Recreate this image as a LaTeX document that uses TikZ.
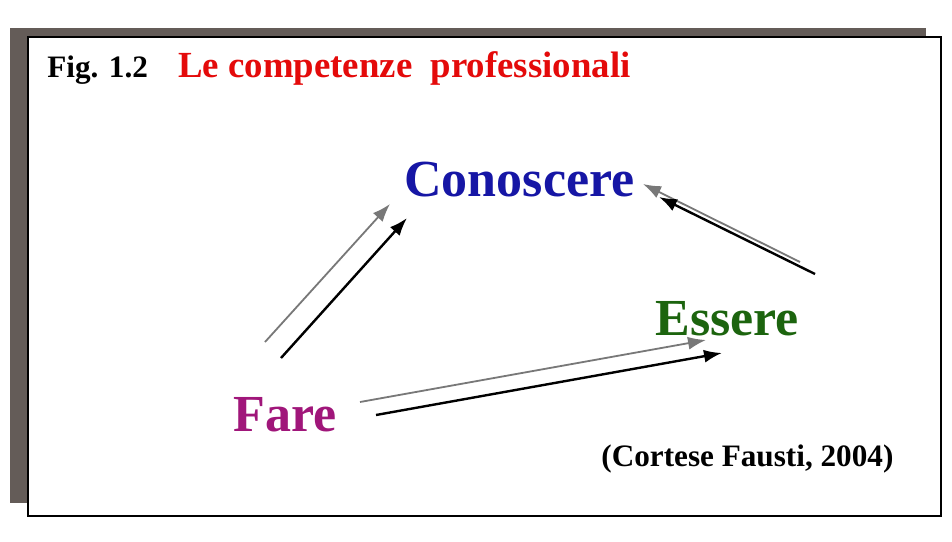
\documentclass[tikz,border=0pt]{standalone}
\usepackage{fontspec}
\setmainfont{Liberation Serif}
\usepackage{xcolor}
\usetikzlibrary{arrows.meta,positioning,calc}

\definecolor{shadowgray}{RGB}{100,92,88}
\definecolor{titlered}{RGB}{228,10,10}
\definecolor{conblue}{RGB}{22,22,165}
\definecolor{essgreen}{RGB}{28,100,14}
\definecolor{faremag}{RGB}{160,22,122}
\definecolor{arrgray}{RGB}{120,120,120}

\begin{document}
\begin{tikzpicture}[x=0.5pt,y=-0.5pt,
		word/.style={font=\bfseries\fontsize{26}{30}\selectfont, inner sep=0pt, anchor=base west},
		small/.style={font=\bfseries\fontsize{15.6}{18}\selectfont, inner sep=0pt, anchor=base west},
		tip/.style={-{Latex[length=9pt,width=6.5pt]}}]
		\useasboundingbox (0,0) rectangle (952,541);

		% frame with shadow
		\fill[shadowgray] (10,28) rectangle (926,503);
		\draw[line width=0.8pt, fill=white] (28,37) rectangle (941,516);

		% title
		\node[small] (fig) at (47,77) {Fig. 1.2};
		\node[small, font=\bfseries\fontsize{18.4}{22}\selectfont, text=titlered] (title) at (178,77) {Le competenze\ \ professionali};

		% the three words
		\node[word, text=conblue] (con) at (404,196) {Conoscere};
		\node[word, text=essgreen] (ess) at (655,335) {Essere};
		\node[word, text=faremag] (fare) at (233,431) {Fare};

		\node[small] (cite) at (601,466) {(Cortese Fausti, 2004)};

		% arrow ends
		\coordinate (fareC1) at (265,342);
		\coordinate (conF1) at (390,204);
		\coordinate (fareC2) at (281,358);
		\coordinate (conF2) at (407,218);
		\coordinate (essC1) at (800,262);
		\coordinate (conE1) at (643,184);
		\coordinate (essC2) at (815,274);
		\coordinate (conE2) at (659,197);
		\coordinate (fareE1) at (360,402);
		\coordinate (essF1) at (706,340);
		\coordinate (fareE2) at (376,415);
		\coordinate (essF2) at (722,353);

		\foreach \a/\b in {fareC1/conF1, essC1/conE1, fareE1/essF1} {
				\draw[tip, arrgray, line width=0.9pt] (\a) -- (\b);
			}
		\foreach \a/\b in {fareC2/conF2, essC2/conE2, fareE2/essF2} {
				\draw[tip, black, line width=1.2pt] (\a) -- (\b);
			}
	\end{tikzpicture}
\end{document}
